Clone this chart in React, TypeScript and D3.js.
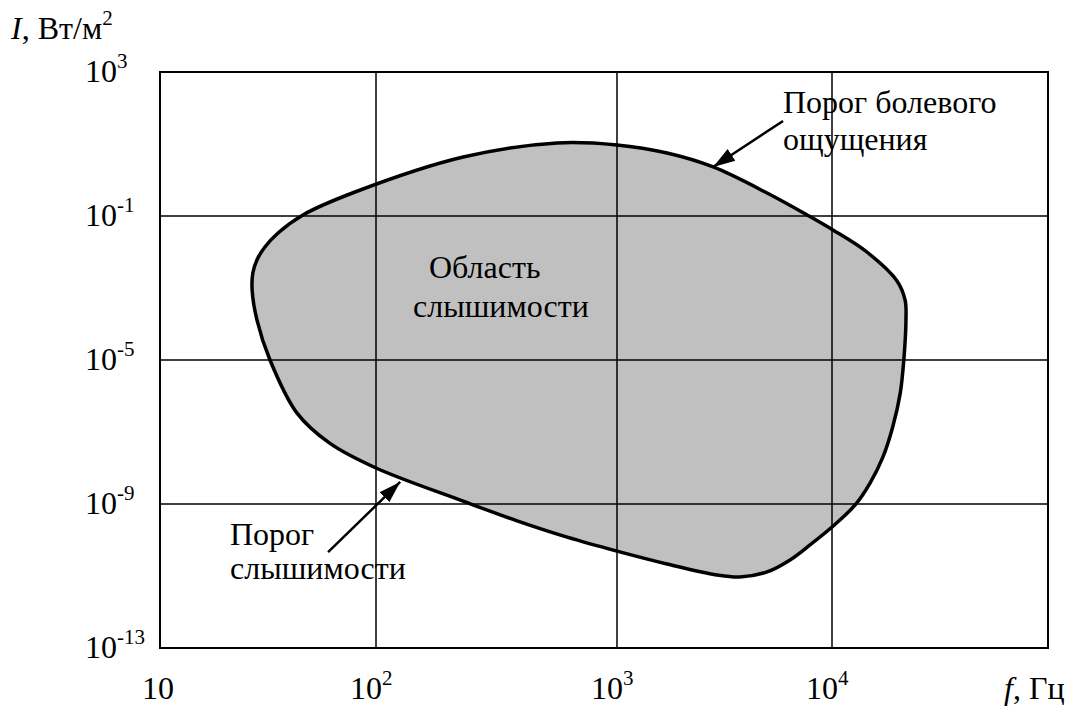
import * as d3 from "d3";
import { useEffect, useRef } from "react";

// outline of the hearing area (Hz, W/m²), clockwise from the leftmost point
const outlineFreq = [
  26.7, 26.9, 28.1, 30.6, 35.2, 45.9, 80, 230, 564, 1000, 1710, 2800, 4990,
  7660, 10100, 14500, 20000, 21800, 22000, 21500, 20700, 19100, 17200, 15000,
  12800, 10000, 7900, 6380, 4990, 3730, 2920, 1710, 1000, 621, 385, 230, 100,
  61, 43, 32.3, 28.1,
];
const outlineIntensity = [
  8.8e-4, 2.6e-3, 6.0e-3, 0.0138, 0.0337, 0.107, 0.464, 4.35, 10.7, 9.4, 5.6,
  2.3, 0.435, 0.107, 0.041, 0.01, 1.57e-3, 4.6e-4, 1.3e-4, 1e-5, 1.2e-6,
  1.38e-7, 2.0e-8, 3.8e-9, 9.4e-10, 2.3e-10, 7.3e-11, 2.8e-11, 1.3e-11,
  9.4e-12, 1.07e-11, 2.15e-11, 4.9e-11, 1.2e-10, 3.4e-10, 1.2e-9, 1e-8, 4.9e-8,
  3.4e-7, 1e-5, 1.3e-4,
];

const freqTicks = [10, 100, 1000, 10000];
const freqTickExp = ["", "2", "3", "4"];
const intensityTicks = [1e3, 1e-1, 1e-5, 1e-9, 1e-13];
const intensityTickExp = ["3", "-1", "-5", "-9", "-13"];

// arrows: [freq, intensity] of tail and tip
const painArrow = [[5920, 43.5], [2800, 2.3]];
const hearingArrow = [[60, 4.6e-11], [126, 4.1e-9]];

const FONT = "Liberation Serif, Times New Roman, serif";

export default function App() {
  const ref = useRef(null);

  useEffect(() => {
    draw();
  }, []);

  function draw() {
    const svg = d3.select(ref.current);
    svg.selectAll("*").remove();

    // the original figure's decades are not quite evenly spaced
    const x = d3.scaleLog()
      .domain([10, 100, 1000, 1e4, 1e5])
      .range([160, 376, 617, 832, 1048]);
    const y = d3.scaleLog().domain([1e-13, 1e3]).range([648, 72]);

    const defs = svg.append("defs");
    defs.append("marker")
      .attr("id", "arrowhead")
      .attr("markerUnits", "userSpaceOnUse")
      .attr("markerWidth", 24)
      .attr("markerHeight", 16)
      .attr("refX", 22)
      .attr("refY", 8)
      .attr("orient", "auto")
      .append("path")
      .attr("d", "M0,1 L22,8 L0,15 Z")
      .attr("fill", "#000");

    const points = outlineFreq.map((f, i) => [x(f), y(outlineIntensity[i])]);
    const line = d3.line().curve(d3.curveCatmullRomClosed.alpha(0.5));

    svg.append("path")
      .attr("d", line(points))
      .attr("fill", "#c0c0c0")
      .attr("stroke", "none");

    // grid
    const g = svg.append("g").attr("stroke", "#000").attr("stroke-width", 1.5);
    freqTicks.slice(1).forEach((f) => {
      g.append("line")
        .attr("x1", x(f)).attr("x2", x(f))
        .attr("y1", y(1e3)).attr("y2", y(1e-13));
    });
    intensityTicks.slice(1, -1).forEach((v) => {
      g.append("line")
        .attr("x1", x(10)).attr("x2", x(1e5))
        .attr("y1", y(v)).attr("y2", y(v));
    });

    svg.append("rect")
      .attr("x", x(10))
      .attr("y", y(1e3))
      .attr("width", x(1e5) - x(10))
      .attr("height", y(1e-13) - y(1e3))
      .attr("fill", "none")
      .attr("stroke", "#000")
      .attr("stroke-width", 2);

    svg.append("path")
      .attr("d", line(points))
      .attr("fill", "none")
      .attr("stroke", "#000")
      .attr("stroke-width", 3.5);

    // arrows
    [painArrow, hearingArrow].forEach((a) => {
      svg.append("line")
        .attr("x1", x(a[0][0])).attr("y1", y(a[0][1]))
        .attr("x2", x(a[1][0])).attr("y2", y(a[1][1]))
        .attr("stroke", "#000")
        .attr("stroke-width", 2.5)
        .attr("marker-end", "url(#arrowhead)");
    });

    const txt = svg.append("g")
      .attr("font-family", FONT)
      .attr("font-size", 32)
      .attr("fill", "#000");

    // x tick labels
    freqTicks.forEach((f, i) => {
      const t = txt.append("text")
        .attr("x", x(f) - (i === 0 ? 18 : 26))
        .attr("y", 699);
      t.append("tspan").text("10");
      if (freqTickExp[i]) {
        t.append("tspan")
          .attr("dy", -14)
          .attr("font-size", 21)
          .text(freqTickExp[i]);
      }
    });

    // y tick labels
    intensityTicks.forEach((v, i) => {
      const t = txt.append("text")
        .attr("x", 85)
        .attr("y", y(v) + 10);
      t.append("tspan").text("10");
      t.append("tspan")
        .attr("dy", -14)
        .attr("font-size", 21)
        .text(intensityTickExp[i]);
    });

    // axis titles
    const yt = txt.append("text").attr("x", 11).attr("y", 39);
    yt.append("tspan").attr("font-style", "italic").text("I");
    yt.append("tspan").text(", Вт/м");
    yt.append("tspan").attr("dy", -14).attr("font-size", 21).text("2");

    const xt = txt.append("text").attr("x", 1004).attr("y", 699);
    xt.append("tspan").attr("font-style", "italic").text("f");
    xt.append("tspan").text(", Гц");

    // annotations
    txt.append("text").attr("x", 783).attr("y", 113).text("Порог болевого");
    txt.append("text").attr("x", 783).attr("y", 150).text("ощущения");
    txt.append("text").attr("x", 429).attr("y", 278).text("Область");
    txt.append("text").attr("x", 413).attr("y", 317).text("слышимости");
    txt.append("text").attr("x", 230).attr("y", 545).text("Порог");
    txt.append("text").attr("x", 230).attr("y", 579).text("слышимости");
  }

  return (
    <svg
      ref={ref}
      width={1077}
      height={707}
      style={{ position: "absolute", left: 0, top: 0, background: "#fff" }}
    />
  );
}
